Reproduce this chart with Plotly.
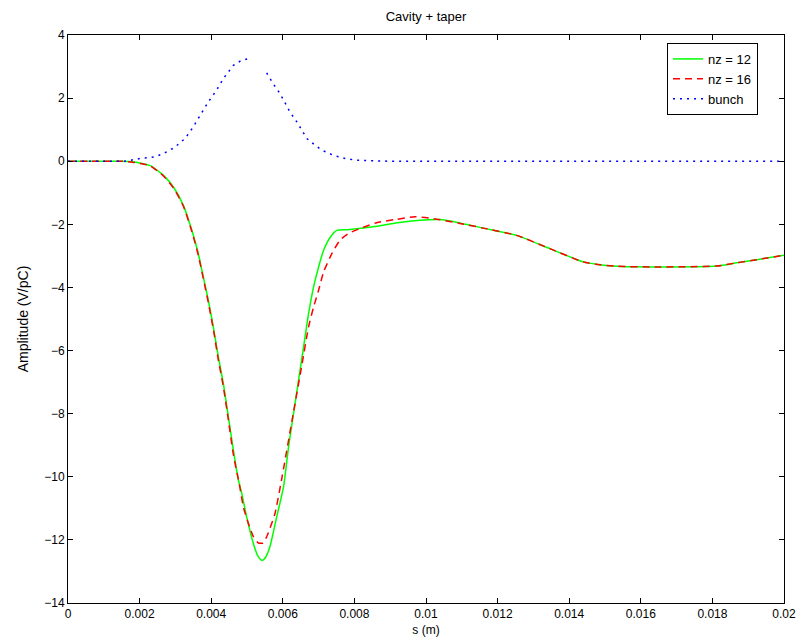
import plotly.graph_objects as go

# nz = 12 (green, solid)
s_nz12 = [0, 0.001, 0.0015, 0.0018, 0.0021, 0.0023, 0.00266, 0.00294, 0.00322, 0.00346,
          0.00364, 0.00378, 0.00392, 0.00406, 0.0042, 0.00434, 0.00448, 0.00462, 0.00476,
          0.00485, 0.00499, 0.00518, 0.0053, 0.00542, 0.00552, 0.00564, 0.00583, 0.00602,
          0.00616, 0.0063, 0.00644, 0.00658, 0.00672, 0.00686, 0.007, 0.00714, 0.00733,
          0.00751, 0.0078, 0.00853, 0.0092, 0.00983, 0.01039, 0.0110, 0.0116, 0.01253,
          0.01346, 0.01439, 0.01486, 0.01533, 0.0165, 0.01812, 0.01868, 0.01924, 0.02]
v_nz12 = [0, 0, 0, -0.02, -0.08, -0.14, -0.44, -0.81, -1.39, -2.19,
          -2.93, -3.67, -4.41, -5.25, -6.2, -7.05, -8.1, -9.16, -10.11,
          -10.5, -11.27, -12.12, -12.5, -12.65, -12.55, -12.22, -11.27, -10.32,
          -9.06, -8.0, -6.94, -5.89, -4.83, -3.98, -3.35, -2.82, -2.4,
          -2.19, -2.17, -2.08, -1.95, -1.87, -1.85, -1.97, -2.12, -2.35,
          -2.77, -3.19, -3.28, -3.33, -3.35, -3.32, -3.22, -3.12, -2.98]

# nz = 16 (red, dashed)
s_nz16 = [0, 0.001, 0.0015, 0.0018, 0.0021, 0.0023, 0.00266, 0.00294, 0.00322, 0.00346,
          0.00364, 0.00378, 0.00392, 0.00406, 0.0042, 0.00434, 0.00448, 0.00462, 0.00478,
          0.0049, 0.00504, 0.00518, 0.00532, 0.00545, 0.00555, 0.00578, 0.00598, 0.00626,
          0.00654, 0.00672, 0.00686, 0.007, 0.00714, 0.00737, 0.0076, 0.00785, 0.00816,
          0.00862, 0.00913, 0.00969, 0.0102, 0.01095, 0.0116, 0.01253, 0.01346, 0.01439,
          0.01486, 0.01533, 0.0165, 0.01812, 0.01868, 0.01924, 0.02]
v_nz16 = [0, 0, 0, -0.03, -0.09, -0.15, -0.46, -0.84, -1.42, -2.23,
          -2.98, -3.72, -4.48, -5.33, -6.3, -7.15, -8.2, -9.3, -10.2,
          -10.96, -11.48, -11.9, -12.1, -12.1, -11.9, -11.17, -10.0, -8.2,
          -6.41, -5.25, -4.62, -4.09, -3.51, -2.93, -2.5, -2.28, -2.13,
          -1.95, -1.85, -1.76, -1.82, -1.97, -2.12, -2.35, -2.77, -3.19,
          -3.28, -3.33, -3.35, -3.32, -3.22, -3.12, -2.98]

# bunch (blue, dotted)
s_bunch = [0, 0.001, 0.00159, 0.00201, 0.00243, 0.00266, 0.00297, 0.00327, 0.0035, 0.00378,
           0.00392, 0.00415, 0.00434, 0.00448, 0.00462, 0.00485, 0.00508, 0.0053,
           0.00555, 0.00573, 0.00592, 0.00606, 0.0062, 0.00639, 0.00653, 0.00667,
           0.0069, 0.00709, 0.00741, 0.00774, 0.00806, 0.009, 0.012, 0.016, 0.02]
v_bunch = [0, 0, 0, 0.085, 0.14, 0.24, 0.43, 0.72, 1.09, 1.62,
           1.88, 2.25, 2.62, 2.83, 3.04, 3.2, 3.26, None,
           2.8, 2.46, 2.15, 1.85, 1.56, 1.25, 0.98, 0.72,
           0.51, 0.35, 0.19, 0.085, 0.03, 0, 0, 0, 0]

x_ticks = [0, 0.002, 0.004, 0.006, 0.008, 0.01, 0.012, 0.014, 0.016, 0.018, 0.02]
x_tick_labels = ["0", "0.002", "0.004", "0.006", "0.008", "0.01", "0.012", "0.014",
                 "0.016", "0.018", "0.02"]
y_ticks = [-14, -12, -10, -8, -6, -4, -2, 0, 2, 4]

fig = go.Figure()
fig.add_trace(go.Scatter(x=s_nz12, y=v_nz12, mode="lines", name="nz = 12",
                         line=dict(color="#00ff00", width=1.5, shape="spline", smoothing=0.6)))
fig.add_trace(go.Scatter(x=s_nz16, y=v_nz16, mode="lines", name="nz = 16",
                         line=dict(color="#ff0000", width=1.5, dash="7px,5px", shape="spline", smoothing=0.6)))
fig.add_trace(go.Scatter(x=s_bunch, y=v_bunch, mode="lines", name="bunch",
                         connectgaps=False,
                         line=dict(color="#0000ff", width=1.5, dash="2px,5px")))

font = "Liberation Sans, Arial, sans-serif"
axis_common = dict(showline=True, linecolor="black", linewidth=1, mirror="ticks",
                   ticks="inside", ticklen=5, tickcolor="black", showgrid=False,
                   zeroline=False, automargin=False,
                   tickfont=dict(size=12, color="black", family=font))
fig.update_layout(
    width=798, height=634,
    margin=dict(l=60, r=22, t=27, b=39),
    paper_bgcolor="white", plot_bgcolor="white",
    font=dict(family=font, size=12, color="black"),
    title=dict(text="Cavity + taper", x=0.5, xanchor="center", xref="paper",
               yref="container", y=0.994, yanchor="top",
               font=dict(size=13, color="black", family=font)),
    xaxis=dict(range=[0, 0.02], tickvals=x_ticks, ticktext=x_tick_labels,
               title=dict(text="s (m)", standoff=5, font=dict(size=12)), **axis_common),
    yaxis=dict(range=[-14, 4], tickvals=y_ticks,
               title=dict(text="Amplitude (V/pC)", standoff=12, font=dict(size=14)), **axis_common),
    legend=dict(x=0.8366, y=0.986, xanchor="left", yanchor="top",
                bordercolor="black", borderwidth=1, bgcolor="white",
                font=dict(size=13, family=font), tracegroupgap=0),
    showlegend=True,
)
fig.write_html("out.html")
